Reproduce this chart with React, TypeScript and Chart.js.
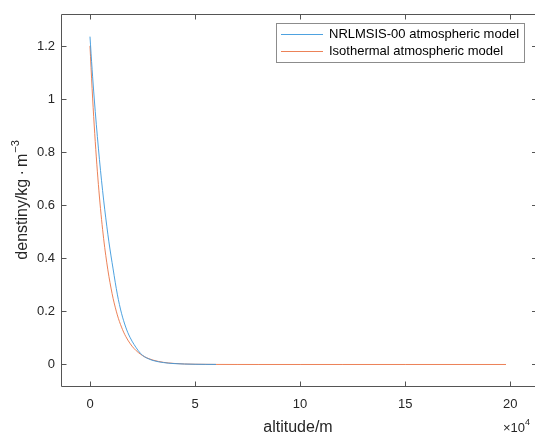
import React, { useEffect, useRef } from 'react';
import { Chart, registerables } from 'chart.js';

Chart.register(...registerables);

// ---- data ----
const nrlAltitude = [
  0, 1000, 2000, 3000, 4000, 5000, 6000, 7000, 8000, 9000, 10000, 11000, 12000, 13000, 14000,
  15000, 16000, 17000, 18000, 19000, 20000, 22000, 24000, 26000, 28000, 30000, 35000, 40000,
  45000, 50000, 55000, 60000,
];
const nrlDensity = [
  1.235, 1.112, 1.004, 0.905, 0.815, 0.731, 0.655, 0.585, 0.521, 0.462, 0.409, 0.36, 0.31, 0.265,
  0.226, 0.193, 0.165, 0.141, 0.12, 0.103, 0.088, 0.063, 0.042, 0.029, 0.021, 0.015, 0.0072,
  0.0034, 0.0017, 0.0009, 0.0005, 0.0003,
];
const isoAltitude = [
  0, 1000, 2000, 3000, 4000, 5000, 6000, 7000, 8000, 9000, 10000, 11000, 12000, 13000, 14000,
  15000, 16000, 17000, 18000, 19000, 20000, 22000, 24000, 26000, 28000, 30000, 35000, 40000,
  45000, 50000, 60000, 70000, 80000, 100000, 120000, 150000, 198000,
];
const isoDensity = [
  1.2, 1.04, 0.902, 0.782, 0.678, 0.587, 0.509, 0.441, 0.383, 0.332, 0.288, 0.249, 0.216, 0.187,
  0.162, 0.141, 0.122, 0.106, 0.092, 0.08, 0.069, 0.052, 0.039, 0.029, 0.022, 0.0165, 0.0081,
  0.004, 0.0019, 0.00095, 0.00023, 0.00005, 0.00001, 0, 0, 0, 0,
];
const seriesNames = ['NRLMSIS-00 atmospheric model', 'Isothermal atmospheric model'];
const seriesColors = ['#3a97dc', '#ea7445'];
const xTickValues = [0, 50000, 100000, 150000, 200000];
const xTickLabels = ['0', '5', '10', '15', '20'];
const yTickValues = [0, 0.2, 0.4, 0.6, 0.8, 1, 1.2];
const yTickLabels = ['0', '0.2', '0.4', '0.6', '0.8', '1', '1.2'];
const xTitle = 'altitude/m';
const yTitleMain = 'denstiny/kg\u2009\u00B7\u2009m';
const yTitleSup = '\u22123';
const xExponentBase = '\u00D710';
const xExponent = '4';

const FONT = "'Liberation Sans', Arial, Helvetica, sans-serif";
const AXIS_COLOR = '#262626';

const framePlugin = {
  id: 'matlabFrame',
  afterDraw(chart: any) {
    const ctx = chart.ctx as CanvasRenderingContext2D;
    const { left, top, bottom } = chart.chartArea;
    const xs = chart.scales.x;
    const ys = chart.scales.y;
    ctx.save();
    ctx.strokeStyle = '#555555';
    ctx.lineWidth = 1;
    const L = Math.round(left) + 0.5;
    const R = 537;
    const T = Math.round(top) + 0.5;
    const B = Math.round(bottom) + 0.5;
    ctx.beginPath();
    ctx.moveTo(R, T);
    ctx.lineTo(L, T);
    ctx.moveTo(L, T);
    ctx.lineTo(L, B);
    ctx.moveTo(L, B);
    ctx.lineTo(R, B);
    ctx.stroke();
    const tick = 5;
    ctx.beginPath();
    xTickValues.forEach((v) => {
      const px = Math.round(xs.getPixelForValue(v)) + 0.5;
      ctx.moveTo(px, B);
      ctx.lineTo(px, B - tick);
      ctx.moveTo(px, T);
      ctx.lineTo(px, T + tick);
    });
    ctx.stroke();
    ctx.beginPath();
    yTickValues.forEach((v) => {
      const py = Math.round(ys.getPixelForValue(v)) + 0.5;
      ctx.moveTo(L, py);
      ctx.lineTo(L + tick, py);
      ctx.moveTo(R, py);
      ctx.lineTo(R - tick, py);
    });
    ctx.stroke();

    // axis titles
    ctx.fillStyle = AXIS_COLOR;
    ctx.font = `16px ${FONT}`;
    ctx.textAlign = 'center';
    ctx.textBaseline = 'middle';
    ctx.fillText(xTitle, 298, 428);

    // y title with superscript
    ctx.save();
    ctx.translate(21, (top + bottom) / 2);
    ctx.rotate(-Math.PI / 2);
    ctx.font = `16px ${FONT}`;
    const wMain = ctx.measureText(yTitleMain).width;
    ctx.font = `11px ${FONT}`;
    const wSup = ctx.measureText(yTitleSup).width;
    const gap = 1;
    const startX = -(wMain + gap + wSup) / 2;
    ctx.textAlign = 'left';
    ctx.textBaseline = 'alphabetic';
    ctx.font = `16px ${FONT}`;
    ctx.fillText(yTitleMain, startX, 6);
    ctx.font = `11px ${FONT}`;
    ctx.fillText(yTitleSup, startX + wMain + gap, -2);
    ctx.restore();

    // x exponent label
    ctx.textAlign = 'left';
    ctx.textBaseline = 'alphabetic';
    ctx.font = `13px ${FONT}`;
    ctx.fillText(xExponentBase, 503, 432);
    const wBase = ctx.measureText(xExponentBase).width;
    ctx.font = `9px ${FONT}`;
    ctx.fillText(xExponent, 503 + wBase, 425);

    // legend
    const bx = 276.5;
    const by = 23.5;
    const bw = 248;
    const bh = 39;
    ctx.fillStyle = '#ffffff';
    ctx.fillRect(bx, by, bw, bh);
    ctx.strokeStyle = '#8c8c8c';
    ctx.lineWidth = 1;
    ctx.strokeRect(bx, by, bw, bh);
    const rows = [34.5, 51.5];
    chart.data.datasets.forEach((ds: any, i: number) => {
      ctx.strokeStyle = ds.borderColor;
      ctx.lineWidth = 0.9;
      ctx.beginPath();
      ctx.moveTo(281, rows[i]);
      ctx.lineTo(323, rows[i]);
      ctx.stroke();
      ctx.fillStyle = '#000000';
      ctx.font = `13px ${FONT}`;
      ctx.textAlign = 'left';
      ctx.textBaseline = 'middle';
      ctx.fillText(ds.label, 329, rows[i]);
    });
    ctx.restore();
  },
};

export default function App() {
  const canvasRef = useRef<HTMLCanvasElement | null>(null);

  useEffect(() => {
    if (!canvasRef.current) return;
    const chart = new Chart(canvasRef.current, {
      type: 'line',
      data: {
        datasets: [
          {
            label: seriesNames[0],
            data: nrlAltitude.map((x, i) => ({ x, y: nrlDensity[i] })),
            borderColor: seriesColors[0],
            borderWidth: 0.9,
            pointRadius: 0,
            cubicInterpolationMode: 'monotone',
            fill: false,
          },
          {
            label: seriesNames[1],
            data: isoAltitude.map((x, i) => ({ x, y: isoDensity[i] })),
            borderColor: seriesColors[1],
            borderWidth: 0.9,
            pointRadius: 0,
            cubicInterpolationMode: 'monotone',
            fill: false,
          },
        ],
      },
      options: {
        responsive: false,
        animation: false,
        layout: { padding: { top: 12, right: 0, left: 0, bottom: 0 } },
        plugins: {
          legend: { display: false },
          tooltip: { enabled: false },
        },
        scales: {
          x: {
            type: 'linear',
            min: -13800,
            max: 211800,
            grid: { display: false, drawTicks: false },
            border: { display: false },
            afterBuildTicks: (s: any) => {
              s.ticks = xTickValues.map((v) => ({ value: v }));
            },
            afterFit: (s: any) => {
              s.height = 47;
            },
            ticks: {
              autoSkip: false,
              maxRotation: 0,
              padding: 11,
              color: AXIS_COLOR,
              font: { family: FONT, size: 13 },
              callback: (v: any) => {
                const idx = xTickValues.indexOf(Number(v));
                return idx >= 0 ? xTickLabels[idx] : '';
              },
            },
          },
          y: {
            type: 'linear',
            min: -0.081,
            max: 1.321,
            grid: { display: false, drawTicks: false },
            border: { display: false },
            afterBuildTicks: (s: any) => {
              s.ticks = yTickValues.map((v) => ({ value: v }));
            },
            afterFit: (s: any) => {
              s.width = 61;
            },
            ticks: {
              autoSkip: false,
              padding: 6,
              color: AXIS_COLOR,
              font: { family: FONT, size: 13 },
              callback: (v: any) => {
                const idx = yTickValues.findIndex((t) => Math.abs(t - Number(v)) < 1e-9);
                return idx >= 0 ? yTickLabels[idx] : '';
              },
            },
          },
        },
      } as any,
      plugins: [framePlugin],
    });
    return () => chart.destroy();
  }, []);

  return (
    <div style={{ position: 'fixed', left: 0, top: 0, width: 535, height: 433, background: '#fff' }}>
      <canvas ref={canvasRef} width={535} height={433} style={{ display: 'block', width: 535, height: 433 }} />
    </div>
  );
}
